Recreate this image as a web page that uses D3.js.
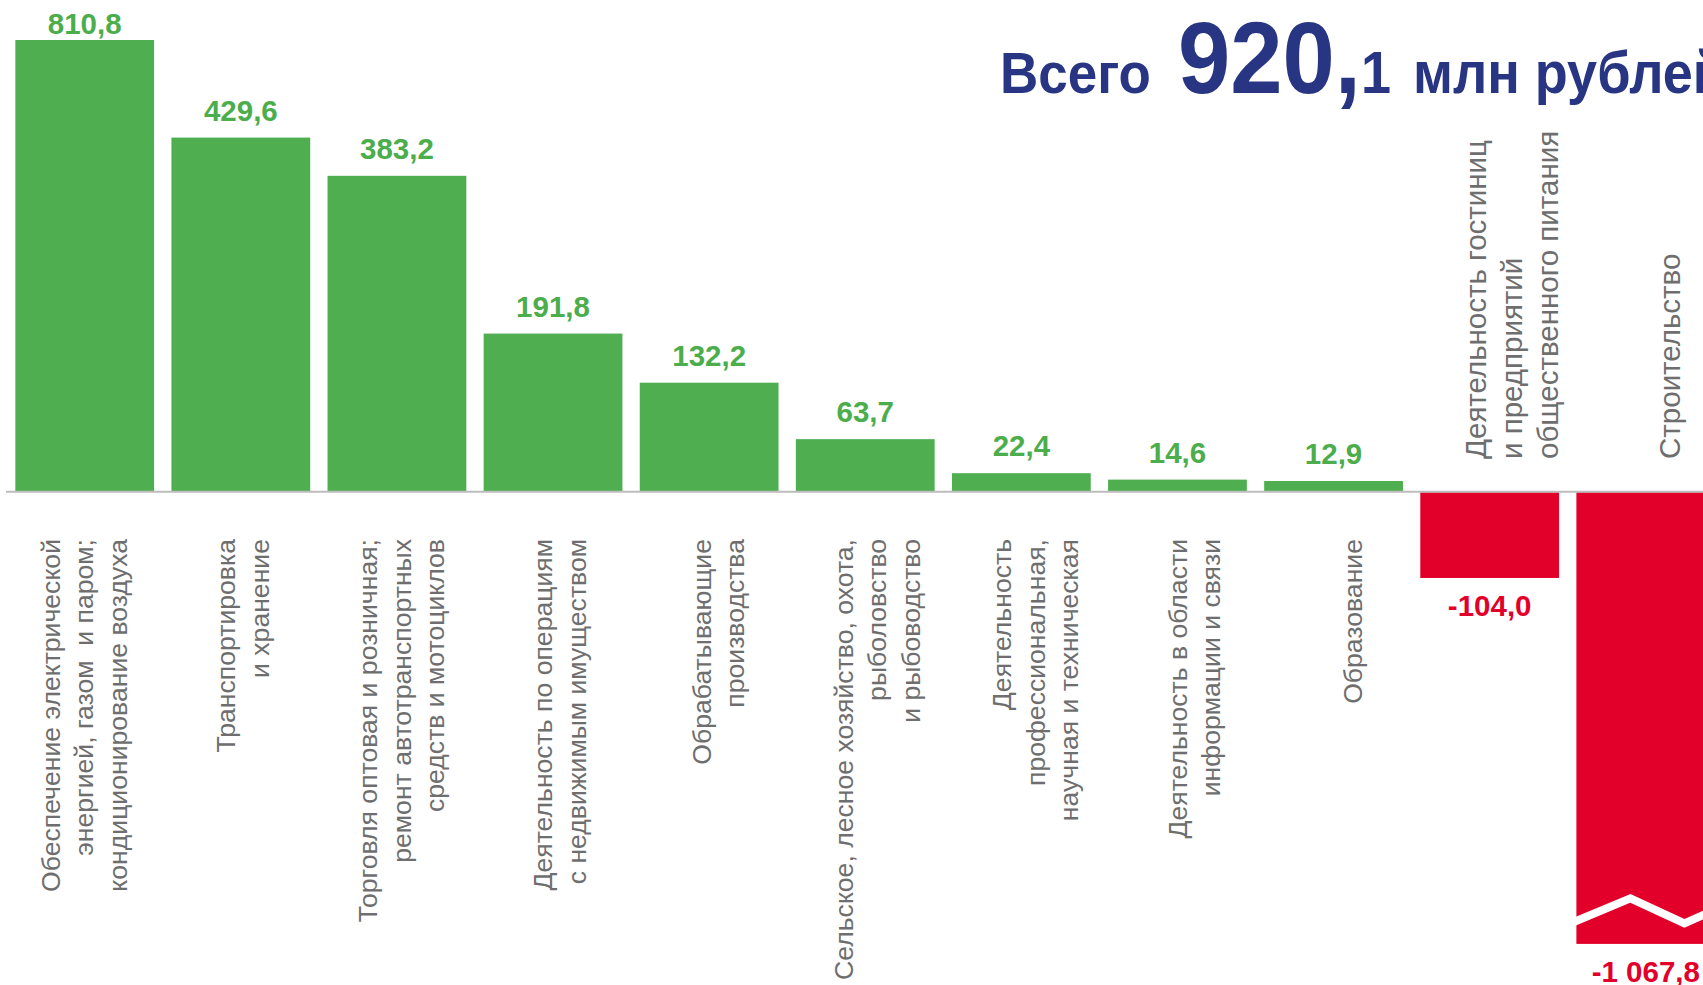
<!DOCTYPE html>
<html>
<head>
<meta charset="utf-8">
<script src="https://cdn.jsdelivr.net/npm/d3@7"></script>
<style>
  html, body { margin: 0; padding: 0; background: #ffffff; overflow: hidden; }
  svg { display: block; }
  text { font-family: "Liberation Sans", Arial, sans-serif; }
</style>
</head>
<body>
<svg id="chart" width="1703" height="985"></svg>
<script>
// ---- data ----
const categoryLines = [
  ["Обеспечение электрической", "энергией, газом  и паром;", "кондиционирование воздуха"],
  ["Транспортировка", "и хранение"],
  ["Торговля оптовая и розничная;", "ремонт автотранспортных", "средств и мотоциклов"],
  ["Деятельность по операциям", "с недвижимым имуществом"],
  ["Обрабатывающие", "производства"],
  ["Сельское, лесное хозяйство, охота,", "рыболовство", "и рыбоводство"],
  ["Деятельность", "профессиональная,", "научная и техническая"],
  ["Деятельность в области", "информации и связи"],
  ["Образование"],
  ["Деятельность гостиниц", "и предприятий", "общественного питания"],
  ["Строительство"]
];
const categories = categoryLines.map(l => l.join(" "));
const values = [810.8, 429.6, 383.2, 191.8, 132.2, 63.7, 22.4, 14.6, 12.9, -104.0, -1067.8];
const totalLabel = "Всего";
const totalInt = "920,";
const totalDec = "1";
const totalUnit = "млн рублей";

// ---- layout ----
const W = 1703, H = 985;
const svg = d3.select("#chart");

const green = "#4FAE4F", greenText = "#4CAD4C", red = "#E2002B";
const navy = "#283583", grey = "#6E6E6E";

const x = d3.scaleBand().domain(categories).range([-2, 1732.5]).padding(0.111);
// axis broken at ±548 (bars beyond are clipped)
const y = d3.scaleLinear().domain([-548, 548]).range([943.3, 40]).clamp(true);
const labelX = d3.scalePoint().domain(categories).range([84, 1670]);

const loc = d3.formatLocale({decimal: ",", thousands: " ", grouping: [3], currency: ["", ""], minus: "-"});
const fmt = loc.format(",.1f");

const data = categories.map((c, i) => ({c, v: values[i], lines: categoryLines[i]}));

// bars
svg.append("g").selectAll("rect").data(data).join("rect")
  .attr("x", d => x(d.c))
  .attr("width", x.bandwidth())
  .attr("y", d => d.v >= 0 ? y(d.v) : y(0) + 0.6)
  .attr("height", d => Math.abs(y(d.v) - y(0)))
  .attr("fill", d => d.v >= 0 ? green : red);

// break marks on clipped negative bars
const broken = data.filter(d => d.v < y.domain()[0]);
svg.append("g").selectAll("polyline").data(broken).join("polyline")
  .attr("points", d => {
    const x0 = x(d.c), b = y(d.v);
    return [[x0 - 8, b - 19], [x0 + 54, b - 45], [x0 + 108, b - 20], [x0 + 162, b - 44]].map(p => p.join(",")).join(" ");
  })
  .attr("fill", "none").attr("stroke", "#ffffff").attr("stroke-width", 8);

// baseline
svg.append("line")
  .attr("x1", 6).attr("x2", W).attr("y1", y(0)).attr("y2", y(0))
  .attr("stroke", "#BDBDBD").attr("stroke-width", 2);

// value labels
svg.append("g").selectAll("text").data(data).join("text")
  .attr("x", d => x(d.c) + x.bandwidth() / 2)
  .attr("y", d => d.v >= 0 ? Math.max(y(d.v) - 17, 34) : y(d.v) + 39)
  .attr("text-anchor", "middle")
  .attr("font-size", 29.5).attr("font-weight", "bold")
  .attr("fill", d => d.v >= 0 ? greenText : red)
  .text(d => fmt(d.v));

// category labels (rotated)
const lab = svg.append("g").selectAll("text").data(data).join("text")
  .attr("transform", d => `translate(${labelX(d.c)},${d.v >= 0 ? 539 : 459}) rotate(-90)`)
  .attr("text-anchor", d => d.v >= 0 ? "end" : "start")
  .attr("font-size", d => d.v >= 0 ? 26.6 : 29.5)
  .attr("fill", grey)
  .style("white-space", "pre");
lab.selectAll("tspan").data(d => d.lines.map((t, i) => ({t, i, n: d.lines.length, h: d.v >= 0 ? 33.5 : 36}))).join("tspan")
  .attr("x", 0)
  .attr("y", t => (t.i - (t.n - 1) / 2) * t.h)
  .attr("dy", "0.35em")
  .text(t => t.t);

// title (slightly stretched vertically, as in the original)
const tg = svg.append("g").attr("transform", "translate(0,93) scale(1,1.09)");
tg.append("text").attr("x", 1000).attr("y", 0).attr("font-size", 53).attr("font-weight", "bold").attr("fill", navy).text(totalLabel);
tg.append("text").attr("x", 1178).attr("y", 0).attr("font-size", 94).attr("font-weight", "bold").attr("fill", navy).text(totalInt);
tg.append("text").attr("x", 1361).attr("y", 0).attr("font-size", 54).attr("font-weight", "bold").attr("fill", navy).text(totalDec);
tg.append("text").attr("x", 1413).attr("y", 0).attr("font-size", 54).attr("font-weight", "bold").attr("fill", navy).text(totalUnit);
</script>
</body>
</html>
